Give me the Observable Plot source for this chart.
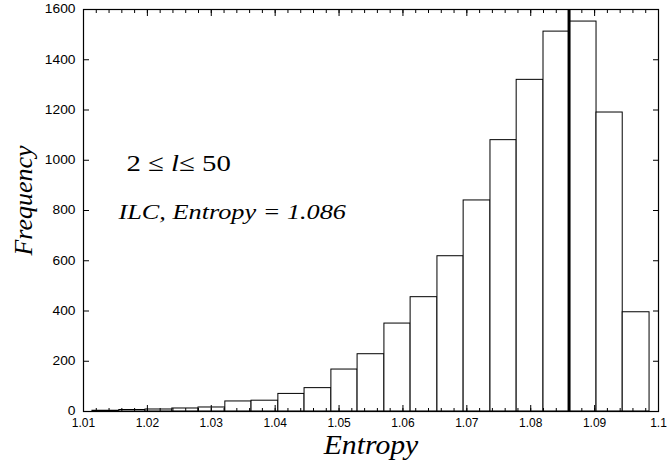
<!DOCTYPE html>
<html><head><meta charset="utf-8">
<script src="https://cdn.jsdelivr.net/npm/d3@7"></script>
<script src="https://cdn.jsdelivr.net/npm/@observablehq/plot@0.6"></script>
<style>
body{margin:0;background:#fff}
svg text.serif{font-family:"Liberation Serif","Times New Roman",serif !important}
svg text.serif-it{font-family:"Liberation Serif","Times New Roman",serif !important;font-style:italic}
svg text.tick{font-family:"Liberation Sans",Arial,sans-serif !important}
</style>
</head><body><div id="chart"></div>
<script>
// Histogram bin edges (entropy) and frequencies
const binEdges = [1.0114, 1.0156, 1.0197, 1.0239, 1.0280, 1.0322, 1.0363, 1.0405, 1.0446, 1.0488,
  1.0529, 1.0571, 1.0612, 1.0654, 1.0695, 1.0737, 1.0778, 1.0820, 1.0861, 1.0903, 1.0944, 1.0986];
const counts = [3, 6, 8, 12, 16, 40, 43, 70, 93, 167, 228, 350, 455, 618, 840, 1080, 1320, 1512, 1552, 1190, 395];
const ilcEntropy = 1.086;
const xTicks = [1.01, 1.02, 1.03, 1.04, 1.05, 1.06, 1.07, 1.08, 1.09, 1.1];
const xTickLabels = ["1.01", "1.02", "1.03", "1.04", "1.05", "1.06", "1.07", "1.08", "1.09", "1.1"];
const yTicks = [0, 200, 400, 600, 800, 1000, 1200, 1400, 1600];
const yTickLabels = ["0", "200", "400", "600", "800", "1000", "1200", "1400", "1600"];
const xMinorTicks = d3.ticks(1.01, 1.1, 45);
const rangeLabel = "2 ≤ l≤ 50";
const ilcLabel = "ILC, Entropy = 1.086";
const xTitle = "Entropy";
const yTitle = "Frequency";

const bins = counts.map((c, i) => ({x1: binEdges[i], x2: binEdges[i + 1], count: c}));
const xFmt = d => xTickLabels[xTicks.indexOf(d)];
const yFmt = d => yTickLabels[yTicks.indexOf(d)];
const none = () => "";

const plot = Plot.plot({
  width: 668, height: 465,
  marginLeft: 83, marginRight: 10, marginTop: 9, marginBottom: 54,
  style: {fontFamily: "Liberation Sans, Arial, sans-serif", fontSize: "12px", background: "white", color: "black", overflow: "visible"},
  x: {domain: [1.01, 1.1]},
  y: {domain: [0, 1600]},
  marks: [
    Plot.rectY(bins, {x1: "x1", x2: "x2", y: "count", fill: "white", stroke: "black", strokeWidth: 1}),
    Plot.ruleX([ilcEntropy], {stroke: "black", strokeWidth: 3}),
    Plot.frame({stroke: "black", strokeWidth: 1.2}),
    Plot.axisX(xTicks, {anchor: "bottom", tickSize: -6, tickPadding: 13, tickFormat: xFmt, label: null}),
    Plot.axisX(xTicks, {anchor: "top", tickSize: -6, tickFormat: none, label: null}),
    Plot.axisX(xMinorTicks, {anchor: "bottom", tickSize: -3, tickFormat: none, label: null}),
    Plot.axisX(xMinorTicks, {anchor: "top", tickSize: -3, tickFormat: none, label: null}),
    Plot.axisY(yTicks, {anchor: "left", tickSize: -6, tickPadding: 14, tickFormat: yFmt, label: null}),
    Plot.axisY(yTicks, {anchor: "right", tickSize: -6, tickFormat: none, label: null}),
    Plot.text([yTitle], {frameAnchor: "left", rotate: -90, dx: -52, dy: -10, lineAnchor: "bottom", textAnchor: "middle", fontSize: 26}),
    Plot.text([xTitle], {frameAnchor: "bottom", dy: 42, lineAnchor: "bottom", textAnchor: "middle", fontSize: 27}),
    Plot.text([rangeLabel], {frameAnchor: "top-left", dx: 43, dy: 161, lineAnchor: "bottom", textAnchor: "start", fontSize: 24}),
    Plot.text([ilcLabel], {frameAnchor: "top-left", dx: 35, dy: 209, lineAnchor: "bottom", textAnchor: "start", fontSize: 21})
  ]
});

const texts = d3.select(plot).selectAll("text");
texts.filter(function() { return [xTitle, yTitle, ilcLabel].includes(this.textContent); }).classed("serif-it", true);
texts.filter(function() { return /^[0-9.]+$/.test(this.textContent); }).classed("tick", true);
// italic "l" inside the range label
texts.filter(function() { return this.textContent === rangeLabel; })
  .classed("serif", true)
  .each(function() {
    const t = d3.select(this);
    t.text(null);
    t.append("tspan").text("2 ≤ ");
    t.append("tspan").style("font-style", "italic").text("l");
    t.append("tspan").text("≤ 50");
  });

document.getElementById("chart").appendChild(plot);

// the reference's lettering is slightly wider than the fonts' natural width
function widen(sel, k) {
  sel.each(function() {
    const w = this.getComputedTextLength();
    if (w > 0) { this.setAttribute("textLength", (w * k).toFixed(1)); this.setAttribute("lengthAdjust", "spacingAndGlyphs"); }
  });
}
const all = d3.select(plot).selectAll("text");
widen(all.filter(function() { return yTickLabels.includes(this.textContent) && this.closest("g[aria-label='y-axis tick label']"); }), 1.15);
widen(all.filter(function() { return this.textContent === ilcLabel; }), 1.25);
widen(all.filter(function() { return this.textContent === rangeLabel; }), 1.2);
widen(all.filter(function() { return this.textContent === xTitle; }), 1.1);
</script>
</body></html>
